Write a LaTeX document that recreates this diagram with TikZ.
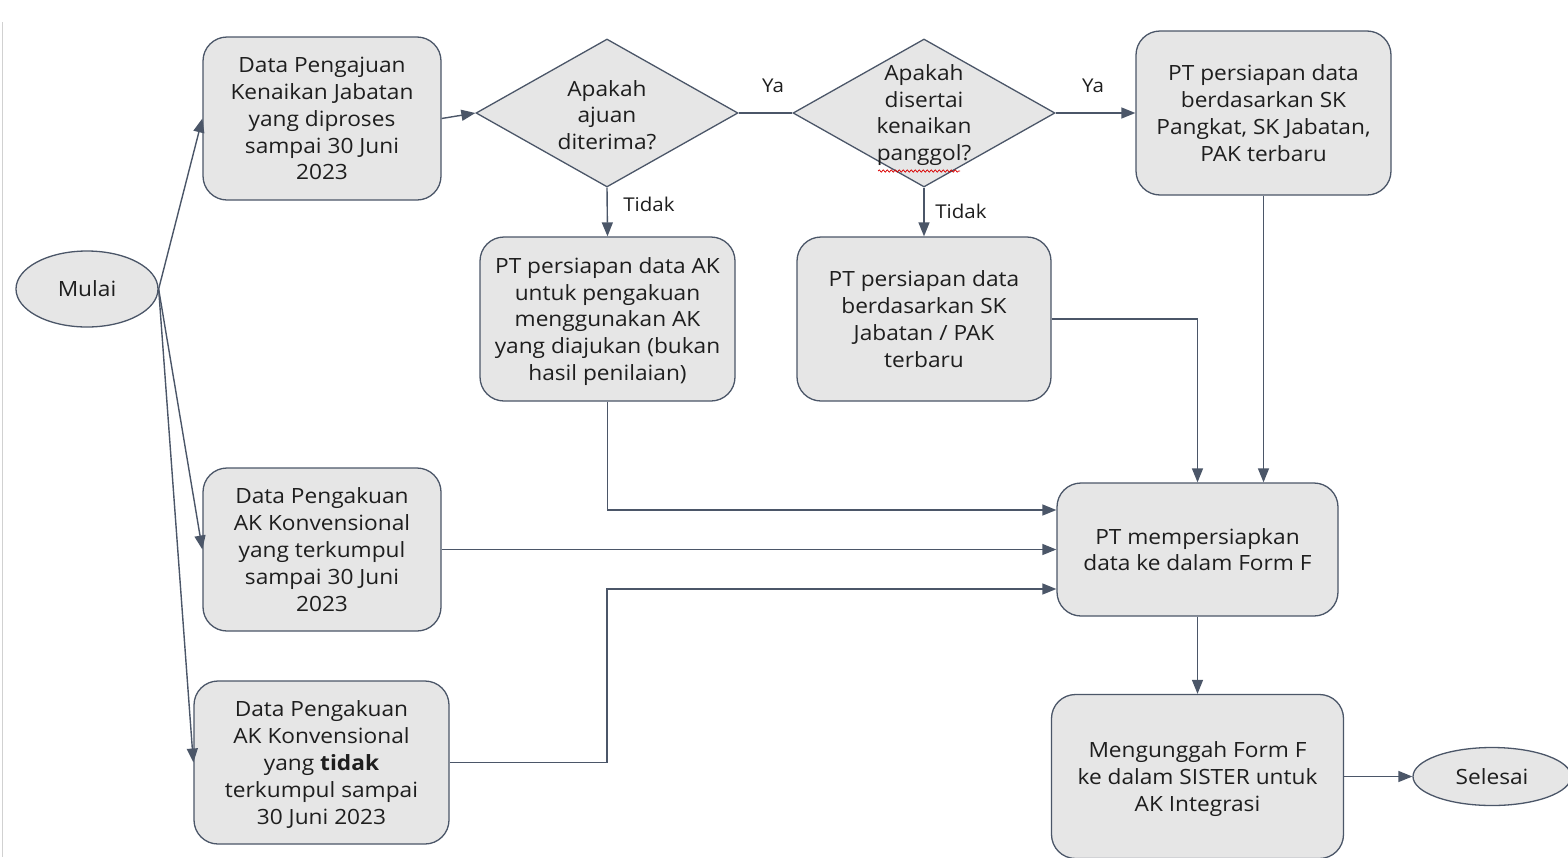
\documentclass[tikz,border=0pt]{standalone}
\usepackage{fontspec}
\setmainfont{Open Sans}[FakeStretch=1.08]
\usetikzlibrary{shapes.geometric,arrows.meta,decorations.pathmorphing}
\definecolor{boxfill}{HTML}{E6E6E6}
\definecolor{edgecol}{HTML}{4B5668}
\definecolor{ink}{HTML}{1E1E1E}
\begin{document}
\begin{tikzpicture}[x=1pt,y=-1pt,
  txt/.style={font={\fontsize{21}{26.8}\selectfont},text=ink,align=center},
  procbox/.style={txt,draw=edgecol,fill=boxfill,line width=1.3pt,rounded corners=24pt,inner sep=0pt,text depth=-2pt},
  decbox/.style={diamond,draw=edgecol,fill=boxfill,line width=1.3pt,inner sep=0pt},
  termbox/.style={ellipse,txt,draw=edgecol,fill=boxfill,line width=1.3pt,inner sep=0pt},
  lbl/.style={font={\fontsize{19}{22}\selectfont},text=ink},
  conn/.style={draw=edgecol,line width=1.4pt},
  arr/.style={conn,-{Triangle[length=14pt,width=11pt]}}
]
\useasboundingbox (0,0) rectangle (1568,857);
\draw[color=black!18,line width=1pt] (2,22) -- (2,857);

% terminals
\node[termbox,minimum width=142pt,minimum height=76pt] (mulai) at (87,289) {Mulai};
\node[termbox,minimum width=158pt,minimum height=58pt] (selesai) at (1492,776.5) {Selesai};

% process boxes
\node[procbox,minimum width=238pt,minimum height=163pt] (b1) at (322,118.5)
  {Data Pengajuan\\Kenaikan Jabatan\\yang diproses\\sampai 30 Juni\\2023};
\node[procbox,minimum width=238pt,minimum height=163pt] (b3) at (322,549.5)
  {Data Pengakuan\\AK Konvensional\\yang terkumpul\\sampai 30 Juni\\2023};
\node[procbox,minimum width=255pt,minimum height=163pt] (b4) at (321.5,762.5)
  {Data Pengakuan\\AK Konvensional\\yang \textbf{tidak}\\terkumpul sampai\\30 Juni 2023};
\node[procbox,minimum width=255pt,minimum height=164pt] (ptr) at (1263.5,113)
  {PT persiapan data\\berdasarkan SK\\Pangkat, SK Jabatan,\\PAK terbaru};
\node[procbox,minimum width=255pt,minimum height=164pt] (pak) at (607.5,319)
  {PT persiapan data AK\\untuk pengakuan\\menggunakan AK\\yang diajukan (bukan\\hasil penilaian)};
\node[procbox,minimum width=254pt,minimum height=164pt] (psk) at (924,319)
  {PT persiapan data\\berdasarkan SK\\Jabatan / PAK\\terbaru};
\node[procbox,minimum width=281pt,minimum height=133pt] (ff) at (1197.5,549.5)
  {PT mempersiapkan\\data ke dalam Form F};
\node[procbox,minimum width=292pt,minimum height=164pt] (up) at (1197.5,776.5)
  {Mengunggah Form F\\ke dalam SISTER untuk\\AK Integrasi};

% decisions
\node[decbox,minimum width=262pt,minimum height=148pt] (d1) at (607,113) {};
\node[txt] (d1t) at (607,115) {Apakah\\ajuan\\diterima?};
\node[decbox,minimum width=262pt,minimum height=148pt] (d2) at (924,113) {};
\node[txt] (d2t) at (924,115) {Apakah\\disertai\\kenaikan\\panggol?};
\draw[red!85!black,line width=0.7pt,decorate,decoration={snake,amplitude=1.2pt,segment length=4pt}] (878,171) -- (960,171);

% connectors
\draw[arr] (mulai.east) -- (b1.west);
\draw[arr] (mulai.east) -- (b3.west);
\draw[arr] (mulai.east) -- (b4.west);
\draw[arr] (b1.east) -- (d1.west);
\draw[conn] (d1.east) -- (d2.west);
\draw[arr] (d2.east) -- (ptr.west);
\draw[arr] (d1.south) -- (pak.north);
\draw[arr] (d2.south) -- (psk.north);
\draw[arr] (ptr.south) -- (ptr.south |- ff.north);
\draw[arr] (psk.east) -| (ff.north);
\draw[arr] (pak.south) |- (ff.west |- 0,510);
\draw[arr] (b3.east) -- (ff.west |- b3.east);
\coordinate (jn) at (607,589);
\draw[arr] (b4.east) -| (jn) -- (ff.west |- jn);
\draw[arr] (ff.south) -- (up.north);
\draw[arr] (up.east) -- (selesai.west);

% labels
\node[lbl] (ya1) at (773,86) {Ya};
\node[lbl] (ya2) at (1093,86) {Ya};
\node[lbl] (td1) at (649,204) {Tidak};
\node[lbl] (td2) at (961,211) {Tidak};
\end{tikzpicture}
\end{document}
